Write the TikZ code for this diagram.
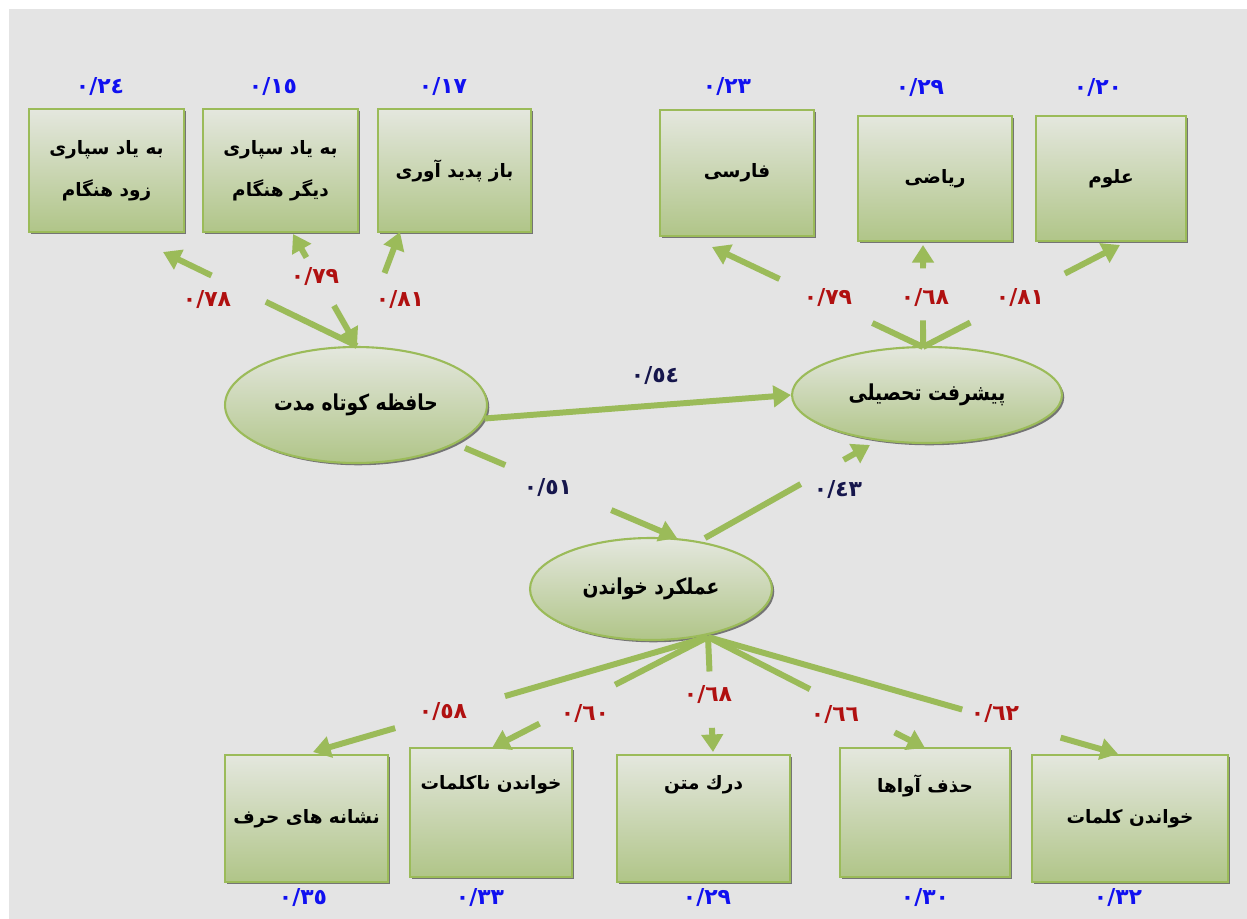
\documentclass[tikz,border=0pt]{standalone}
\usepackage{fontspec}
\usetikzlibrary{calc,shapes.geometric,arrows.meta,shadows}
\TeXXeTstate=1
\newfontfamily\fa[Script=Arabic]{DejaVu Sans}
\newfontfamily\fan[Script=Arabic,FakeStretch=0.85]{DejaVu Sans}
\definecolor{bg}{HTML}{E4E4E4}
\definecolor{grn}{HTML}{9BBB59}
\definecolor{boxtop}{HTML}{E4E7DE}
\definecolor{boxbot}{HTML}{B0C588}
\definecolor{lblue}{HTML}{1010F0}
\definecolor{lred}{HTML}{B01010}
\definecolor{lnavy}{HTML}{16164C}
\newcommand{\gapline}[4]{%
  \draw[conn] (#1) -- ($(#1)!#3!(#2)$);
  \draw[arr] ($(#1)!#4!(#2)$) -- (#2);}
\begin{document}
\begin{tikzpicture}[x=0.02cm,y=-0.02cm,
  box/.style={draw=grn, line width=1.2pt, top color=boxtop, bottom color=boxbot,
    drop shadow={shadow xshift=1.3pt, shadow yshift=-1.3pt, fill=black!65, opacity=0.8},
    inner sep=2pt, align=center, font=\fa\bfseries\fontsize{10.5}{24}\selectfont},
  btext/.style={font=\fa\bfseries\fontsize{10.5}{24}\selectfont},
  lat/.style={ellipse, draw=grn, line width=1.2pt, top color=boxtop, bottom color=boxbot,
    drop shadow={shadow xshift=1.3pt, shadow yshift=-1.3pt, fill=black!65, opacity=0.8},
    inner sep=0pt, font=\fan\bfseries\fontsize{12.5}{14}\selectfont},
  conn/.style={draw=grn, line width=3.4pt},
  arr/.style={conn, -{Triangle[length=10pt,width=12pt]}},
  err/.style={text=lblue, font=\fa\bfseries\fontsize{12.5}{14}\selectfont},
  load/.style={text=lred, font=\fa\bfseries\fontsize{12.5}{14}\selectfont},
  pth/.style={text=lnavy, font=\fa\bfseries\fontsize{12.5}{14}\selectfont}]
\fill[white] (0,0) rectangle (1247,919);
\fill[bg] (9,9) rectangle (1247,919);
\useasboundingbox (0,0) rectangle (1247,919);

% top boxes
\node[box, minimum width=3.10cm, minimum height=2.46cm] (Ba) at (106.5,170.5) {\beginR به یاد سپاری\endR\\\beginR زود هنگام\endR};
\node[box, minimum width=3.10cm, minimum height=2.46cm] (Bb) at (280.5,170.5) {\beginR به یاد سپاری\endR\\\beginR دیگر هنگام\endR};
\node[box, minimum width=3.06cm, minimum height=2.46cm] (Bc) at (454.5,170.5) {\beginR باز پدید آوری\endR};
\node[box, minimum width=3.08cm, minimum height=2.52cm] (Bd) at (737,173) {\beginR فارسی\endR};
\node[box, minimum width=3.08cm, minimum height=2.50cm] (Be) at (935,178.5) {\beginR ریاضی\endR};
\node[box, minimum width=3.00cm, minimum height=2.50cm] (Bf) at (1111,178.5) {\beginR علوم\endR};

% bottom boxes
\node[box, minimum width=3.26cm, minimum height=2.54cm] (C1) at (306.5,818.5) {\beginR نشانه های حرف\endR};
\node[box, minimum width=3.24cm, minimum height=2.58cm,
  label={[btext, anchor=center, yshift=-0.76cm]north:{\beginR خواندن ناکلمات\endR}}] (C2) at (491,812.5) {};
\node[box, minimum width=3.46cm, minimum height=2.54cm,
  label={[btext, anchor=center, yshift=-0.62cm]north:{\beginR درك متن\endR}}] (C3) at (703.5,818.5) {};
\node[box, minimum width=3.40cm, minimum height=2.58cm,
  label={[btext, anchor=center, yshift=-0.78cm]north:{\beginR حذف آواها\endR}}] (C4) at (925,812.5) {};
\node[box, minimum width=3.92cm, minimum height=2.54cm] (C5) at (1130,818.5) {\beginR خواندن کلمات\endR};

% latent variables
\node[lat, minimum width=5.24cm, minimum height=2.32cm] (E1) at (356,405) {\beginR حافظه کوتاه مدت\endR};
\node[lat, minimum width=5.40cm, minimum height=1.92cm] (E2) at (927,395) {\beginR پیشرفت تحصیلی\endR};
\node[lat, minimum width=4.84cm, minimum height=2.04cm] (E3) at (651,589) {\beginR عملکرد خواندن\endR};

% connector ends
\coordinate (P1) at (357,346);
\coordinate (A1) at (163,252);
\coordinate (A2) at (293,234);
\coordinate (A3) at (400,232);
\coordinate (P2) at (923,347);
\coordinate (A4) at (712,247);
\coordinate (A5) at (923,245);
\coordinate (A6) at (1120,245);
\coordinate (P3) at (708,637);
\coordinate (T1) at (313,752);
\coordinate (T2) at (492,748);
\coordinate (T3) at (713,752);
\coordinate (T4) at (925,748);
\coordinate (T5) at (1118,754);
\coordinate (S1) at (465,448);
\coordinate (T6) at (677,538);
\coordinate (S2) at (705,538);
\coordinate (T7) at (870,445);

% connectors
\gapline{P1}{A1}{0.47}{0.75}
\draw[arr] ($(P1)!0.36!(A2)$) -- (P1);
\draw[arr] ($(P1)!0.79!(A2)$) -- (A2);
\draw[arr] ($(P1)!0.64!(A3)$) -- (A3);
\gapline{P2}{A4}{0.24}{0.68}
\gapline{P2}{A5}{0.26}{0.77}
\gapline{P2}{A6}{0.24}{0.72}
\draw[arr] (E1.-6) -- (E2.west);
\gapline{S1}{T6}{0.19}{0.69}
\gapline{S2}{T7}{0.58}{0.84}
\gapline{P3}{T1}{0.514}{0.792}
\gapline{P3}{T2}{0.43}{0.78}
\gapline{P3}{T3}{0.30}{0.79}
\gapline{P3}{T4}{0.47}{0.86}
\gapline{P3}{T5}{0.62}{0.86}

% error variances
\node[err] (ea) at (100,87) {٠/٢٤};
\node[err] (eb) at (273,87) {٠/١٥};
\node[err] (ec) at (443,87) {٠/١٧};
\node[err] (ed) at (727,87) {٠/٢٣};
\node[err] (ee) at (920,88) {٠/٢٩};
\node[err] (ef) at (1098,88) {٠/٢٠};
\node[err] (e1) at (303,898) {٠/٣٥};
\node[err] (e2) at (480,898) {٠/٣٣};
\node[err] (e3) at (707,898) {٠/٢٩};
\node[err] (e4) at (925,898) {٠/٣٠};
\node[err] (e5) at (1118,898) {٠/٣٢};

% loadings
\node[load] (la) at (207,300) {٠/٧٨};
\node[load] (lb) at (315,277) {٠/٧٩};
\node[load] (lc) at (400,300) {٠/٨١};
\node[load] (ld) at (828,298) {٠/٧٩};
\node[load] (le) at (925,298) {٠/٦٨};
\node[load] (lf) at (1020,298) {٠/٨١};
\node[load] (l1) at (443,712) {٠/٥٨};
\node[load] (l2) at (585,714) {٠/٦٠};
\node[load] (l3) at (708,695) {٠/٦٨};
\node[load] (l4) at (835,715) {٠/٦٦};
\node[load] (l5) at (995,714) {٠/٦٢};

% paths
\node[pth] (p1) at (655,376) {٠/٥٤};
\node[pth] (p2) at (548,488) {٠/٥١};
\node[pth] (p3) at (838,490) {٠/٤٣};
\end{tikzpicture}
\end{document}
